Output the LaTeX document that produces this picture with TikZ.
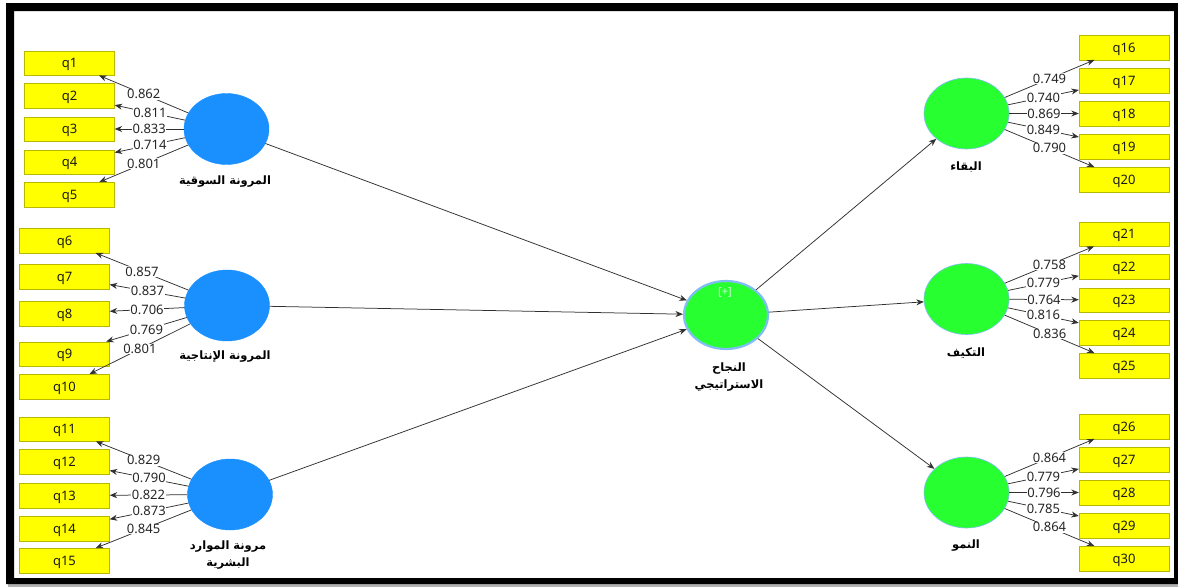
\documentclass[tikz,border=0pt]{standalone}
\usepackage{fontspec}
\setmainfont{Noto Sans}
\newfontfamily\arabicfont[Script=Arabic]{DejaVu Sans}
\TeXXeTstate=1
\usetikzlibrary{shapes.geometric,arrows.meta}
\definecolor{qyellow}{HTML}{FFFF00}
\definecolor{qborder}{HTML}{B8B800}
\definecolor{lvblue}{HTML}{1A90FF}
\definecolor{lvgreen}{HTML}{28FF30}
\definecolor{ringblue}{HTML}{80BDF5}
\definecolor{edgecol}{HTML}{303030}
\begin{document}
\begin{tikzpicture}[x=1pt,y=-1pt,
  ind/.style={draw=qborder, fill=qyellow, minimum width=90pt, minimum height=24.5pt, inner sep=0pt, text height=9pt, text depth=0pt, font=\fontsize{13}{14}\selectfont, text=black!90},
  lvb/.style={ellipse, fill=lvblue, draw=lvblue, minimum width=85pt, minimum height=71pt, inner sep=0pt},
  lvg/.style={ellipse, fill=lvgreen, draw=ringblue, line width=0.6pt, minimum width=85pt, minimum height=71pt, inner sep=0pt},
  lvc/.style={lvg, line width=2.2pt, minimum width=84pt, minimum height=68pt},
  link/.style={draw=edgecol, line width=0.75pt, -{Stealth[length=7.5pt,width=6pt]}},
  ld/.style={fill=white, inner sep=0.5pt, font=\fontsize{13}{13}\selectfont, text=black!85, pos=0.5},
  alab/.style={font=\arabicfont\bfseries\fontsize{11.5}{17}\selectfont, align=center, inner sep=0pt}
]
\useasboundingbox (0,0) rectangle (1178,587);
\fill[white] (0,0) rectangle (1178,587);
% frame
\fill[black!30] (8,584) rectangle (1178,587);
\fill[black, even odd rule] (6,3) rectangle (1178,584) (14,11) rectangle (1174,578);

% left indicators
\node[ind] (q1) at (69.5,63) {q1};
\node[ind] (q2) at (69.5,95.5) {q2};
\node[ind] (q3) at (69.5,129) {q3};
\node[ind] (q4) at (69.5,162) {q4};
\node[ind] (q5) at (69.5,194.5) {q5};
\node[ind] (q6) at (64.5,240.5) {q6};
\node[ind] (q7) at (64.5,276.5) {q7};
\node[ind] (q8) at (64.5,313.5) {q8};
\node[ind] (q9) at (64.5,354) {q9};
\node[ind] (q10) at (64.5,386.5) {q10};
\node[ind] (q11) at (64.5,429) {q11};
\node[ind] (q12) at (64.5,461.5) {q12};
\node[ind] (q13) at (64.5,495.5) {q13};
\node[ind] (q14) at (64.5,528.5) {q14};
\node[ind] (q15) at (64.5,560.5) {q15};
% right indicators
\node[ind] (q16) at (1124,47.5) {q16};
\node[ind] (q17) at (1124,80.5) {q17};
\node[ind] (q18) at (1124,113.5) {q18};
\node[ind] (q19) at (1124,146.5) {q19};
\node[ind] (q20) at (1124,179.5) {q20};
\node[ind] (q21) at (1124,234) {q21};
\node[ind] (q22) at (1124,266.5) {q22};
\node[ind] (q23) at (1124,300) {q23};
\node[ind] (q24) at (1124,332.5) {q24};
\node[ind] (q25) at (1124,365.5) {q25};
\node[ind] (q26) at (1124,426.5) {q26};
\node[ind] (q27) at (1124,459.5) {q27};
\node[ind] (q28) at (1124,492.5) {q28};
\node[ind] (q29) at (1124,525.5) {q29};
\node[ind] (q30) at (1124,558.5) {q30};

% latent variables
\node[lvb] (L1) at (226.5,129) {};
\node[lvb] (L2) at (227,305.5) {};
\node[lvb] (L3) at (230,494.5) {};
\node[lvc] (C) at (726,315) {};
\node[lvg] (R1) at (966.5,113.5) {};
\node[lvg] (R2) at (966.5,299) {};
\node[lvg] (R3) at (966.5,492.5) {};

\node[font=\fontsize{11}{12}\selectfont, text=white!80!lvgreen, inner sep=0pt] (plus) at (725,292) {[+]};

% labels of latent variables
\node[alab] (t1) at (225,182) {\beginR المرونة السوقية\endR};
\node[alab] (t2) at (225,357) {\beginR المرونة الإنتاجية\endR};
\node[alab] (t3) at (228,555.5) {\beginR مرونة الموارد\endR\\\beginR البشرية\endR};
\node[alab] (tc) at (729,377) {\beginR النجاح\endR\\\beginR الاستراتيجي\endR};
\node[alab] (tr1) at (966,167) {\beginR البقاء\endR};
\node[alab] (tr2) at (966,353) {\beginR التكيف\endR};
\node[alab] (tr3) at (966,546) {\beginR النمو\endR};

% structural paths
\draw[link] (L1) -- (C);
\draw[link] (L2) -- (C);
\draw[link] (L3) -- (C);
\draw[link] (C) -- (R1);
\draw[link] (C) -- (R2);
\draw[link] (C) -- (R3);

% outer loadings left
\draw[link] (L1) -- node[ld]{0.862} (q1);
\draw[link] (L1) -- node[ld]{0.811} (q2);
\draw[link] (L1) -- node[ld]{0.833} (q3);
\draw[link] (L1) -- node[ld]{0.714} (q4);
\draw[link] (L1) -- node[ld]{0.801} (q5);
\draw[link] (L2) -- node[ld]{0.857} (q6);
\draw[link] (L2) -- node[ld]{0.837} (q7);
\draw[link] (L2) -- node[ld]{0.706} (q8);
\draw[link] (L2) -- node[ld]{0.769} (q9);
\draw[link] (L2) -- node[ld]{0.801} (q10);
\draw[link] (L3) -- node[ld]{0.829} (q11);
\draw[link] (L3) -- node[ld]{0.790} (q12);
\draw[link] (L3) -- node[ld]{0.822} (q13);
\draw[link] (L3) -- node[ld]{0.873} (q14);
\draw[link] (L3) -- node[ld]{0.845} (q15);
% outer loadings right
\draw[link] (R1) -- node[ld]{0.749} (q16);
\draw[link] (R1) -- node[ld]{0.740} (q17);
\draw[link] (R1) -- node[ld]{0.869} (q18);
\draw[link] (R1) -- node[ld]{0.849} (q19);
\draw[link] (R1) -- node[ld]{0.790} (q20);
\draw[link] (R2) -- node[ld]{0.758} (q21);
\draw[link] (R2) -- node[ld]{0.779} (q22);
\draw[link] (R2) -- node[ld]{0.764} (q23);
\draw[link] (R2) -- node[ld]{0.816} (q24);
\draw[link] (R2) -- node[ld]{0.836} (q25);
\draw[link] (R3) -- node[ld]{0.864} (q26);
\draw[link] (R3) -- node[ld]{0.779} (q27);
\draw[link] (R3) -- node[ld]{0.796} (q28);
\draw[link] (R3) -- node[ld]{0.785} (q29);
\draw[link] (R3) -- node[ld]{0.864} (q30);
\end{tikzpicture}
\end{document}
